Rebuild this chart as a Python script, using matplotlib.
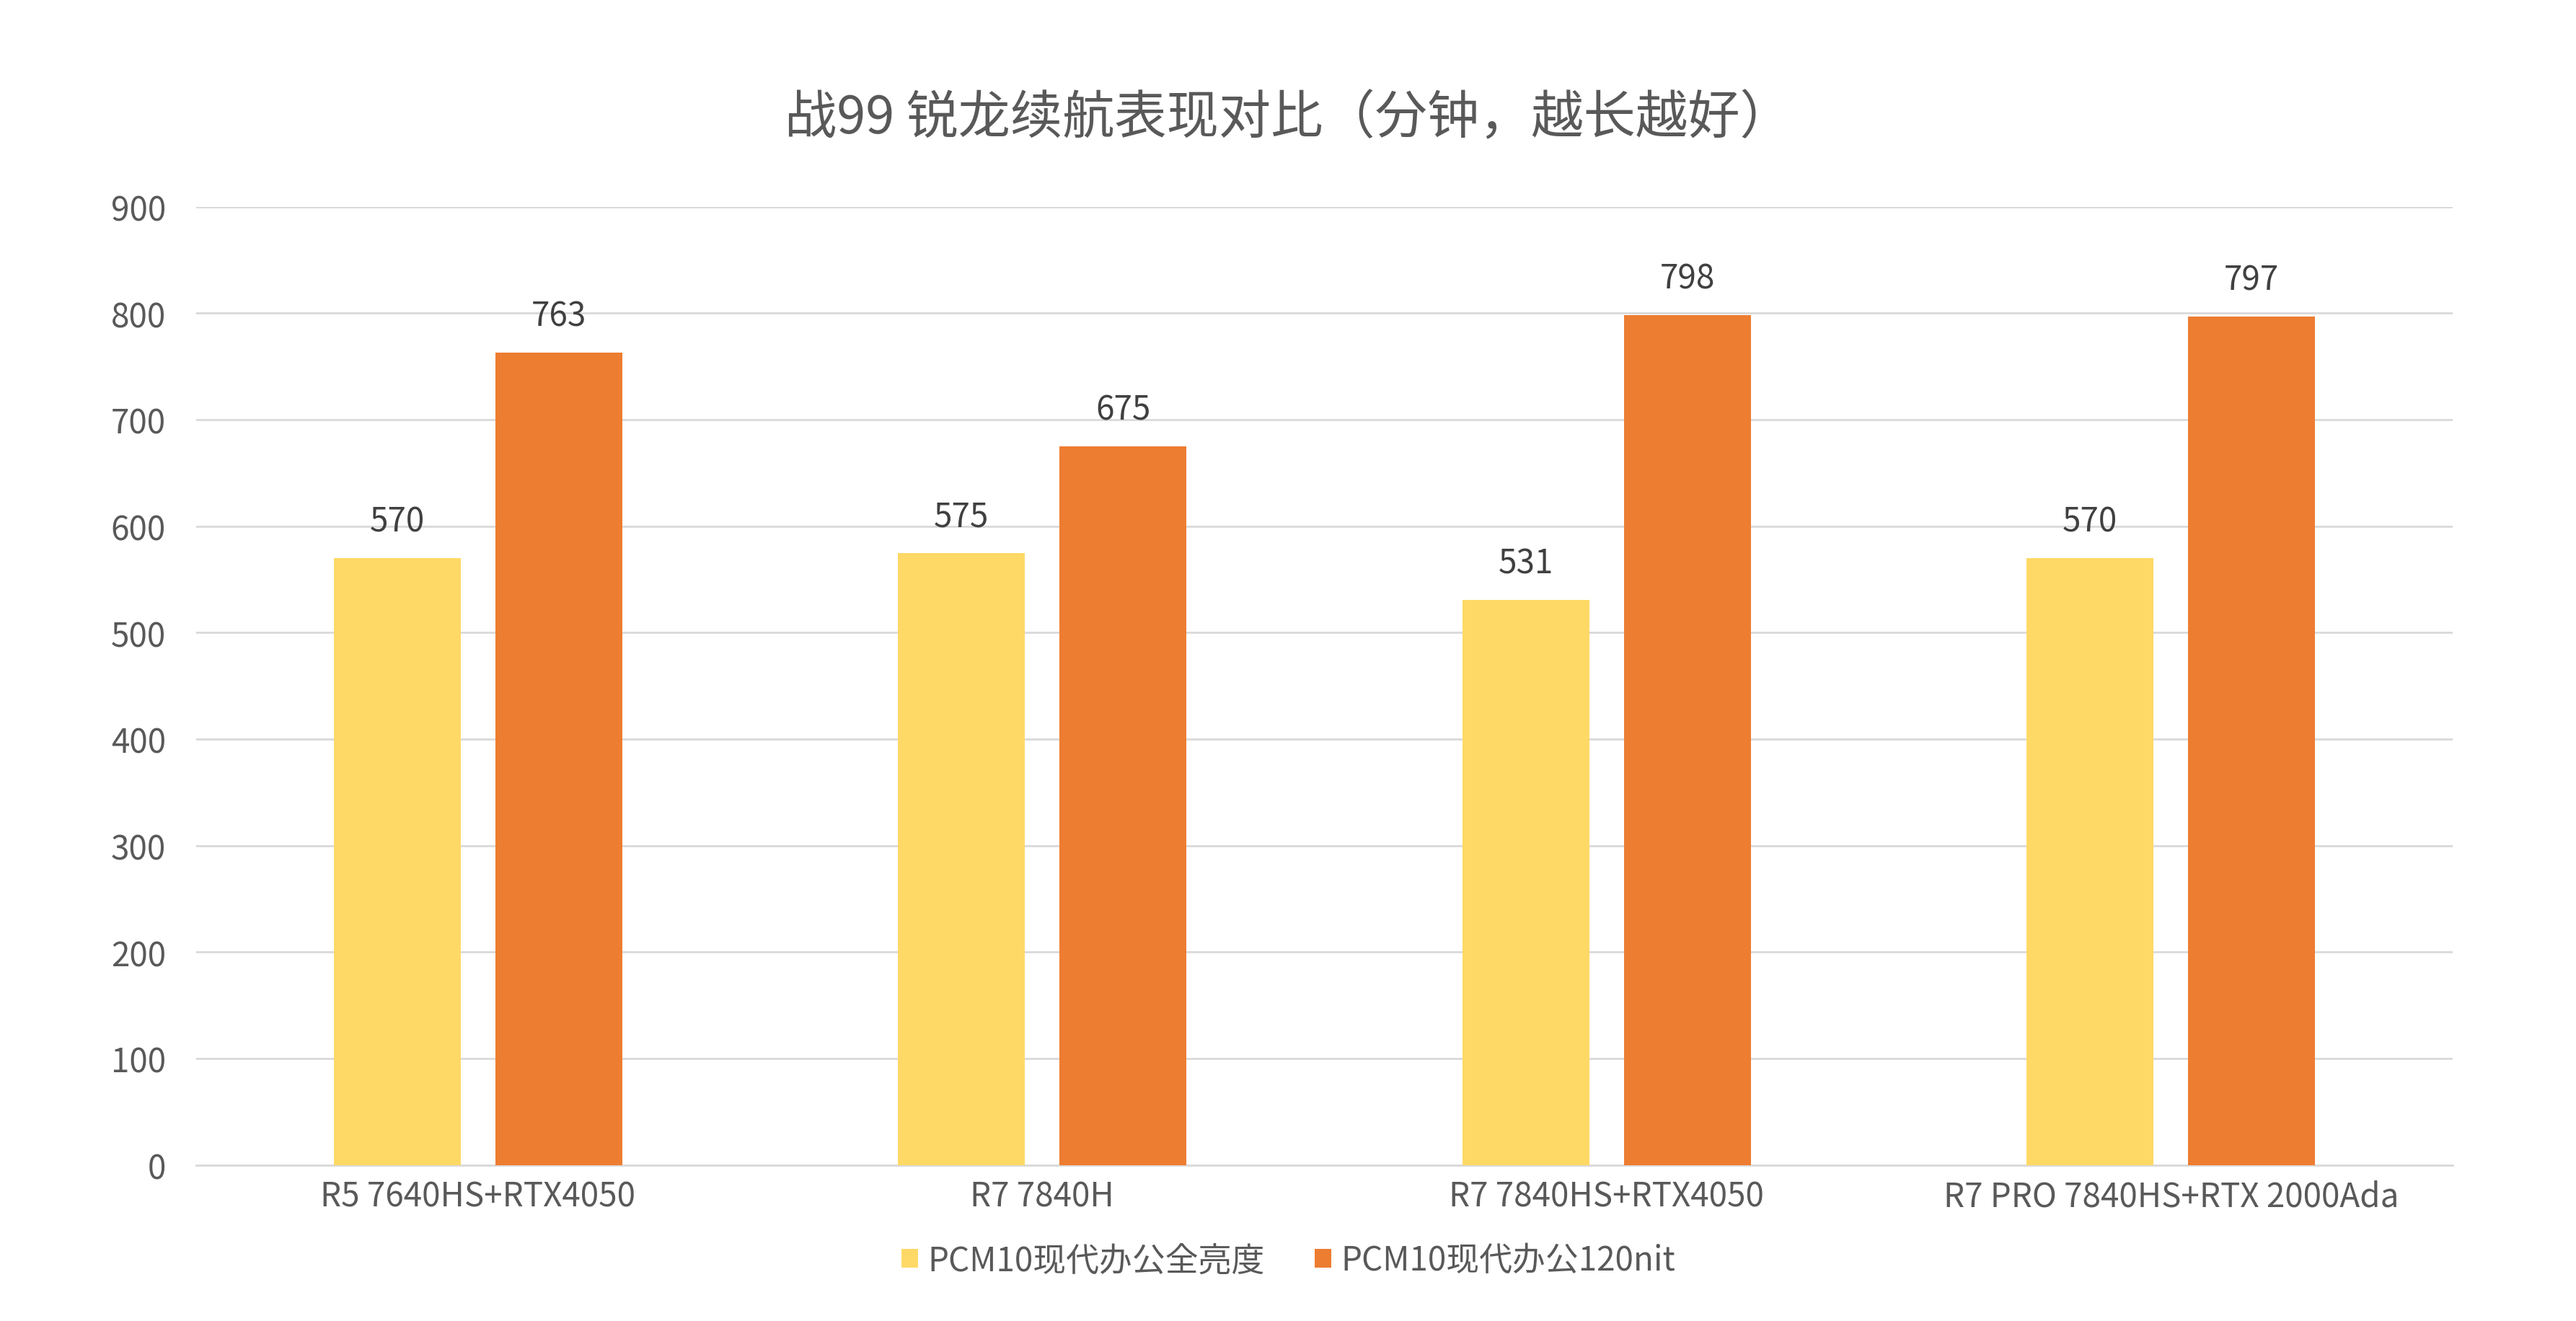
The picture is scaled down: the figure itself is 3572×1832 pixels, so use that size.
import matplotlib.pyplot as plt
from matplotlib import font_manager
import numpy as np

# pick whichever CJK font is actually registered
names = {f.name for f in font_manager.fontManager.ttflist}
cjk = [n for n in ["Noto Sans CJK SC", "Noto Sans CJK JP", "Noto Sans CJK TC", "Noto Sans CJK KR"] if n in names]
plt.rcParams['font.family'] = 'sans-serif'
plt.rcParams['font.sans-serif'] = cjk + ['DejaVu Sans']

categories = ["R5 7640HS+RTX4050", "R7 7840H", "R7 7840HS+RTX4050", "R7 PRO 7840HS+RTX 2000Ada"]
full_brightness = [570, 575, 531, 570]
nit120 = [763, 675, 798, 797]
series_names = ["PCM10现代办公全亮度", "PCM10现代办公120nit"]
title = "战99 锐龙续航表现对比（分钟，越长越好）"

gray = "#595959"
fig = plt.figure(figsize=(35.73, 18.33), dpi=100)
ax = fig.add_axes([0.076, 0.118, 0.876, 0.725])

x = np.arange(len(categories))
w = 0.225
off = 0.143
b1 = ax.bar(x - off, full_brightness, w, color="#FFD966", label=series_names[0], zorder=3)
b2 = ax.bar(x + off, nit120, w, color="#ED7D31", label=series_names[1], zorder=3)
for bars in (b1, b2):
    for r in bars:
        ax.text(r.get_x() + r.get_width() / 2, r.get_height() + 18, str(int(r.get_height())),
                ha='center', va='bottom', fontsize=33, color="#404040")

ax.set_xlim(-0.5, len(categories) - 0.5)
ax.set_ylim(0, 900)
ax.set_yticks(range(0, 901, 100))
ax.set_xticks(x)
ax.set_xticklabels(categories)
ax.tick_params(axis='both', length=0, labelsize=33, labelcolor=gray)
ax.tick_params(axis='y', pad=30)
ax.tick_params(axis='x', pad=14)
ax.grid(axis='y', color="#D9D9D9", linewidth=2, zorder=0)
for s in ['top', 'right', 'left']:
    ax.spines[s].set_visible(False)
ax.spines['bottom'].set_color("#D9D9D9")
ax.spines['bottom'].set_linewidth(2)

fig.suptitle(title, y=0.93, fontsize=52, color=gray)
fig.legend(loc='lower center', bbox_to_anchor=(0.5, 0.01), ncol=2, frameon=False,
           fontsize=33, labelcolor=gray, handlelength=0.5, handleheight=0.5,
           handletextpad=0.3, columnspacing=1.5)

fig.savefig("out.png", dpi=100)
